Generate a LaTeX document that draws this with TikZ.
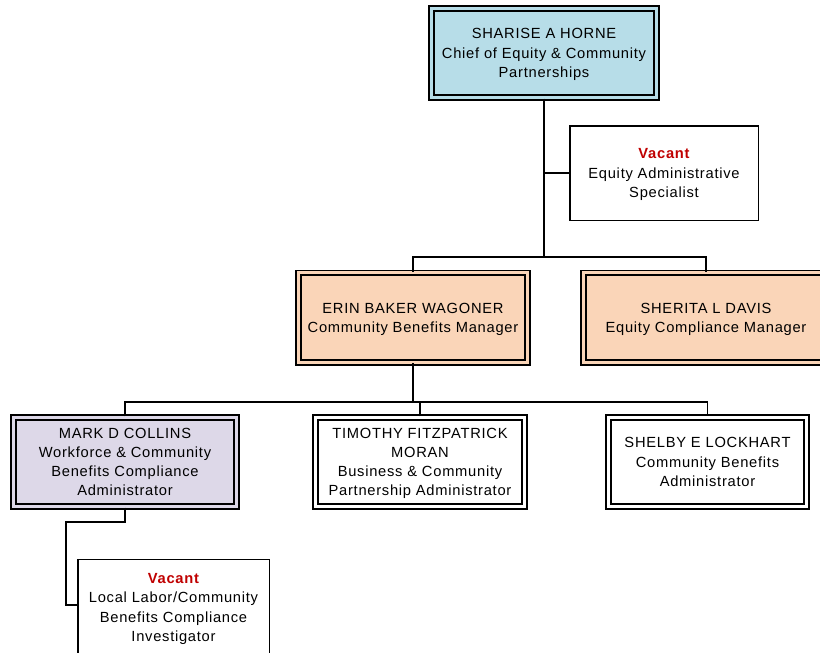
\documentclass[tikz,border=0pt]{standalone}
\usepackage{fontspec}
\setmainfont{Liberation Sans}[LetterSpace=5]
\definecolor{boxblue}{RGB}{183,221,232}
\definecolor{boxpeach}{RGB}{250,213,184}
\definecolor{boxlav}{RGB}{221,216,232}
\definecolor{vacred}{RGB}{192,0,0}
\newcommand{\vac}{\textcolor{vacred}{\bfseries Vacant}}
\begin{document}
\begin{tikzpicture}[x=1pt,y=-1pt,
  every node/.style={font=\fontsize{14.7}{19.2}\selectfont, align=center, inner sep=0pt,
    text depth=0pt},
  dbl/.style={draw=black, line width=1.7pt, double distance=3.2pt},
  sgl/.style={draw=black, line width=1.5pt, fill=white},
  conn/.style={draw=black, line width=1.5pt}]
\useasboundingbox (0,0) rectangle (820,653);
\clip (0,0) rectangle (820,653);
\fill[white] (0,0) rectangle (820,653);

\node[dbl, fill=boxblue, double=boxblue, minimum width=225.4pt, minimum height=89.4pt] (top) at (544,53)
  {SHARISE A HORNE\\Chief of Equity \& Community\\Partnerships};
\node[sgl, minimum width=188.5pt, minimum height=94.5pt] (vac1) at (664,173)
  {\vac\\Equity Administrative\\Specialist};
\node[dbl, fill=boxpeach, double=boxpeach, minimum width=229.4pt, minimum height=89.4pt] (erin) at (413,317.5)
  {ERIN BAKER WAGONER\\Community Benefits Manager};
\node[dbl, fill=boxpeach, double=boxpeach, minimum width=245.4pt, minimum height=89.4pt] (sherita) at (706,317.5)
  {SHERITA L DAVIS\\Equity Compliance Manager};
\node[dbl, fill=boxlav, double=boxlav, minimum width=223.4pt, minimum height=89.4pt] (mark) at (125,462)
  {MARK D COLLINS\\Workforce \& Community\\Benefits Compliance\\Administrator};
\node[dbl, fill=white, double=white, minimum width=209.4pt, minimum height=89.4pt] (tim) at (420,462)
  {TIMOTHY FITZPATRICK\\MORAN\\Business \& Community\\Partnership Administrator};
\node[dbl, fill=white, double=white, minimum width=198.4pt, minimum height=89.4pt] (shelby) at (707.5,462)
  {SHELBY E LOCKHART\\Community Benefits\\Administrator};
\node[sgl, minimum width=191.5pt, minimum height=96.5pt] (vac2) at (173.5,607.5)
  {\vac\\Local Labor/Community\\Benefits Compliance\\Investigator};

\coordinate (b1) at (544,257);
\coordinate (b2) at (413,402);
\coordinate (e1) at (66,522);
\coordinate (e2) at (66,605);

\draw[conn] (top.south) -- (b1);
\draw[conn] (top.south |- vac1.west) -- (vac1.west);
\draw[conn] (erin.north) |- (b1) -| (sherita.north);
\draw[conn] (erin.south) -- (b2);
\draw[conn] (mark.north) |- (b2) -| (shelby.north);
\draw[conn] (tim.north) |- (b2);
\draw[conn] (mark.south) |- (e1) -- (e2) -- (e2 -| vac2.west);
\end{tikzpicture}
\end{document}
